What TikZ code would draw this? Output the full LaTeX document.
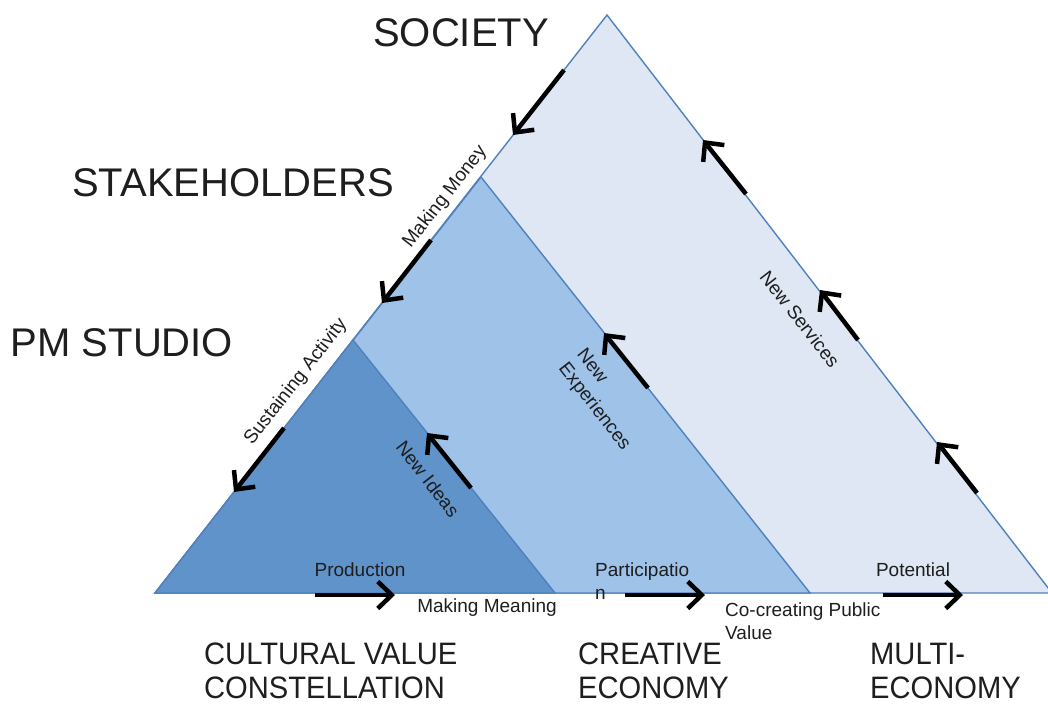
\documentclass[tikz,border=0pt]{standalone}
\usepackage{fontspec}
\setmainfont{Liberation Sans}
\newfontfamily\narrowsans[FakeStretch=0.94]{Liberation Sans}
\usetikzlibrary{arrows.meta}

\definecolor{lightfill}{HTML}{DEE7F3}
\definecolor{midfill}{HTML}{9EC2E8}
\definecolor{darkfill}{HTML}{5F93C9}
\definecolor{edgeblue}{HTML}{4F81BD}
\definecolor{inktext}{HTML}{1E1E1E}

\begin{document}
\begin{tikzpicture}[x=1pt,y=-1pt,
  tri/.style={draw=edgeblue, line width=1.4pt, line join=miter},
  flow/.style={line width=4.5pt, black, -{Straight Barb[length=14pt,width=27pt]}},
  biglabel/.style={font=\fontsize{40}{44}\selectfont, text=inktext, inner sep=0},
  baselabel/.style={font=\narrowsans\fontsize{31}{34}\selectfont, text=inktext, align=left, inner sep=0, anchor=north west},
  smalllabel/.style={font=\fontsize{19}{23}\selectfont, text=inktext, inner sep=0},
]
\useasboundingbox (0,0) rectangle (1048,704);
\begin{scope}
\clip (0,0) rectangle (1048,704);
% triangles
\coordinate (BL) at (155,593);
\coordinate (TopA) at (607,15);
\coordinate (TopBR) at (1052,593);
\coordinate (MidA) at (481,177);
\coordinate (MidBR) at (810,593);
\coordinate (SmA) at (353,340);
\coordinate (SmBR) at (555,593);
\filldraw[tri, fill=lightfill] (BL) -- (TopA) -- (TopBR) -- cycle;
\filldraw[tri, fill=midfill] (BL) -- (MidA) -- (MidBR) -- cycle;
\filldraw[tri, fill=darkfill] (BL) -- (SmA) -- (SmBR) -- cycle;
\end{scope}

% arrow end points
\coordinate (a1s) at (564,70);  \coordinate (a1e) at (513,135);
\coordinate (a2s) at (431,240); \coordinate (a2e) at (382,303);
\coordinate (a3s) at (284,428); \coordinate (a3e) at (234,492);
\coordinate (a4s) at (471,488); \coordinate (a4e) at (427,433);
\coordinate (a5s) at (648,388); \coordinate (a5e) at (604,333);
\coordinate (a6s) at (977,493); \coordinate (a6e) at (937,442);
\coordinate (a7s) at (858,340); \coordinate (a7e) at (820,290);
\coordinate (a8s) at (746,194); \coordinate (a8e) at (703,140);
\coordinate (b1s) at (315,595); \coordinate (b1e) at (395,595);
\coordinate (b2s) at (625,595); \coordinate (b2e) at (705,595);
\coordinate (b3s) at (883,595); \coordinate (b3e) at (963,595);

\foreach \k in {a1,a2,a3,a4,a5,a6,a7,a8,b1,b2,b3}
  \draw[flow] (\k s) -- (\k e);

% level labels
\node[biglabel] (society) at (461,33) {SOCIETY};
\node[biglabel] (stake) at (233,183) {STAKEHOLDERS};
\node[biglabel] (studio) at (122,343) {PM STUDIO};

% economy labels
\node[baselabel] (cvc) at (204,643) {CULTURAL VALUE\\CONSTELLATION};
\node[baselabel] (ce) at (578,643) {CREATIVE\\ECONOMY};
\node[baselabel] (me) at (870,643) {MULTI-\\ECONOMY};

% edge labels
\node[smalllabel, rotate=52] (money) at (445,197) {Making Money};
\node[smalllabel, rotate=52] (sustain) at (296,382) {Sustaining Activity};
\node[smalllabel, rotate=-52] (ideas) at (428,479) {New Ideas};
\node[smalllabel, rotate=-52, align=left] (exper) at (603,400) {New\\Experiences};
\node[smalllabel, rotate=-52] (services) at (800,319) {New Services};

\node[smalllabel] (prod) at (360,570) {Production};
\node[smalllabel] (meaning) at (487,608) {Making Meaning};
\node[smalllabel, align=left, anchor=north west] (partic) at (595,563) {Participatio\\n};
\node[smalllabel, align=left, anchor=north west] (cocreate) at (725,603) {Co-creating Public\\Value};
\node[smalllabel] (potential) at (913,570) {Potential};
\end{tikzpicture}
\end{document}
